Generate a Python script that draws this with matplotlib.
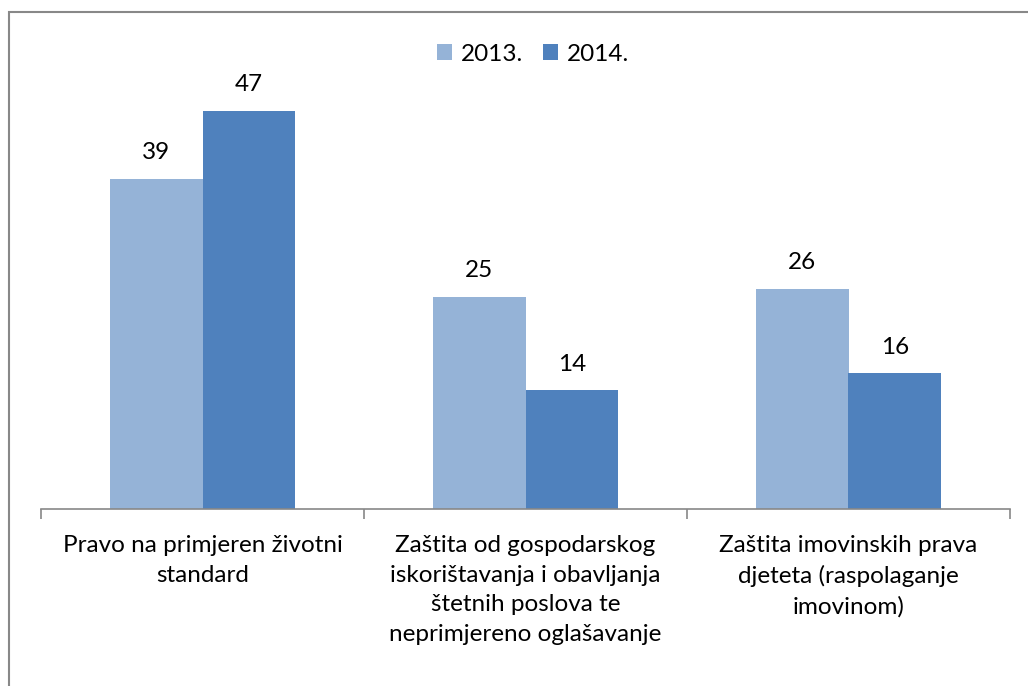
import numpy as np
import matplotlib.pyplot as plt
from matplotlib.patches import Rectangle

# Chart data
categories = [
    "Pravo na primjeren životni\nstandard",
    "Zaštita od gospodarskog\niskorištavanja i obavljanja\nštetnih poslova te\nneprimjereno oglašavanje",
    "Zaštita imovinskih prava\ndjeteta (raspolaganje\nimovinom)",
]
series_names = ["2013.", "2014."]
values_2013 = [39, 25, 26]
values_2014 = [47, 14, 16]
colors = ["#95B3D7", "#4F81BD"]

plt.rcParams['font.family'] = ['Lato', 'DejaVu Sans']
FS = 17.5

W, H = 1028, 686
fig = plt.figure(figsize=(W / 100, H / 100), dpi=100)
fig.patch.set_facecolor('white')

# Outer chart border
fig.add_artist(Rectangle((9 / W, -0.05), 1.2, (H - 12) / H + 0.05, transform=fig.transFigure,
                         fill=False, edgecolor='#888888', lw=1.5))

ax = fig.add_axes([41 / W, (H - 509) / H, (1010 - 41) / W, (509 - 85.5) / H])
x = np.arange(len(categories))
bw = 0.286
b1 = ax.bar(x - bw / 2, values_2013, bw, color=colors[0], label=series_names[0])
b2 = ax.bar(x + bw / 2, values_2014, bw, color=colors[1], label=series_names[1])

for bars in (b1, b2):
    for rect in bars:
        ax.annotate(f"{rect.get_height():.0f}",
                    (rect.get_x() + rect.get_width() / 2, rect.get_height()),
                    xytext=(0, 19), textcoords='offset points',
                    ha='center', va='center', fontsize=FS)

ax.set_xlim(-0.5, len(categories) - 0.5)
ax.set_ylim(0, 50)
ax.set_yticks([])
for s in ['top', 'right', 'left']:
    ax.spines[s].set_visible(False)
ax.spines['bottom'].set_color('#888888')
ax.spines['bottom'].set_linewidth(1.2)

ax.set_xticks(np.arange(len(categories) + 1) - 0.5, minor=False)
ax.set_xticklabels([])
ax.tick_params(axis='x', length=7, color='#888888', width=1.2)
for i, c in enumerate(categories):
    ax.text(i, -0.062, c, transform=ax.get_xaxis_transform(), ha='center', va='top',
            fontsize=FS, linespacing=1.5)

ax.legend(loc='center', bbox_to_anchor=(0.508, 1.074), ncol=2, frameon=False,
          fontsize=FS, handlelength=0.6, handleheight=0.6, handletextpad=0.4,
          columnspacing=0.8)

fig.savefig("out.png", dpi=100)
